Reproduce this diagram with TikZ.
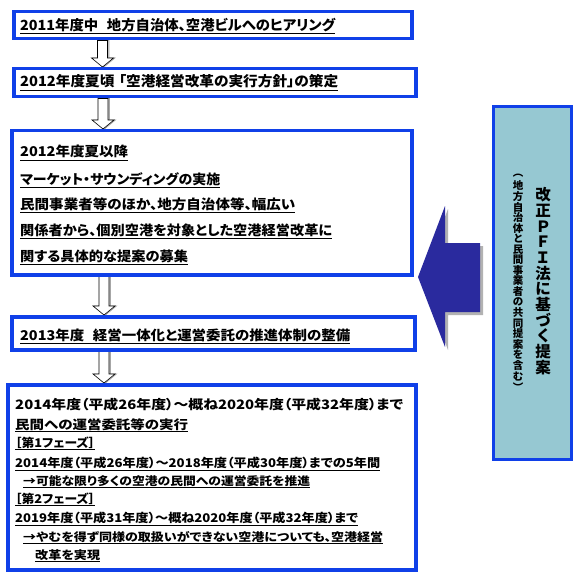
\documentclass[tikz,border=0pt]{standalone}
\usepackage{fontspec}
\usepackage{graphicx}
\setmainfont{Noto Sans CJK JP}[RawFeature=+palt]
\usetikzlibrary{calc}
\definecolor{boxblue}{RGB}{16,64,232}
\definecolor{arrblue}{RGB}{42,42,158}
\definecolor{panelfill}{RGB}{150,200,210}
\newsavebox\fitbox
\newcommand\fitw[2]{\sbox\fitbox{#2}\pgfmathsetmacro\fitf{#1/\the\wd\fitbox}\scalebox{\fitf}[1]{\usebox\fitbox}}
\newcommand\ul[1]{\underline{#1}}
\tikzset{
  box/.style={draw=boxblue, line width=3.5pt, fill=white, anchor=north west, inner sep=0pt},
  txt/.style={anchor=base west, inner sep=0pt, font=\bfseries},
  arrmain/.style={draw=black, line width=0.6pt, fill=white},
  arrshadow/.style={draw=gray!70, line width=0.6pt, fill=gray!40},
}
% block arrow from upper node #1 to lower node #2 at x = #3
\newcommand\barrow[3]{%
  \foreach \o/\st in {1.5/arrshadow,0/arrmain}{%
    \draw[\st, xshift=\o pt, yshift=-\o pt] let \p1=(#1.south), \p2=(#2.north) in
      (#3pt-5pt,\y1) -- (#3pt+5pt,\y1) -- (#3pt+5pt,\y2+9pt) -- (#3pt+11pt,\y2+9pt)
      -- (#3pt,\y2) -- (#3pt-11pt,\y2+9pt) -- (#3pt-5pt,\y2+9pt) -- cycle;
  }}
\begin{document}
\begin{tikzpicture}[x=1pt,y=-1pt]
\useasboundingbox (0,0) rectangle (578,575);
% boxes (placeholders for arrow anchors)
\path (12,10) node[box, minimum width=398pt, minimum height=27pt, draw=none, fill=none] (b1) {};
\path (12,67) node[box, minimum width=402pt, minimum height=28pt, draw=none, fill=none] (b2) {};
\path (10,129) node[box, minimum width=400pt, minimum height=144pt, draw=none, fill=none] (b3) {};
\path (10,315) node[box, minimum width=403pt, minimum height=33pt, draw=none, fill=none] (b4) {};
\path (6,383) node[box, minimum width=408pt, minimum height=185pt, draw=none, fill=none] (b5) {};
% block arrows
\barrow{b1}{b2}{102.5}
\barrow{b2}{b3}{103}
\barrow{b3}{b4}{104}
\barrow{b4}{b5}{104}
% visible boxes
\node[box, minimum width=398pt, minimum height=27pt] at (12,10) {};
\node[box, minimum width=402pt, minimum height=28pt] at (12,67) {};
\node[box, minimum width=400pt, minimum height=144pt] at (10,129) {};
\node[box, minimum width=403pt, minimum height=33pt] at (10,315) {};
\node[box, minimum width=408pt, minimum height=185pt] at (6,383) {};
% texts
\node[txt] (t1) at (20,30.5) {\fontsize{14}{16}\selectfont\fitw{315}{\ul{2011年度中\hspace{0.6em}地方自治体、空港ビルへのヒアリング}}};
\node[txt] (t2) at (20,87) {\fontsize{14}{16}\selectfont\fitw{318}{\ul{2012年度夏頃\hspace{0.3em}「空港経営改革の実行方針」の策定}}};
\node[txt] (t31) at (20,157) {\fontsize{13.5}{16}\selectfont\fitw{108}{\ul{2012年度夏以降}}};
\node[txt] (t32) at (20,184) {\fontsize{13.5}{16}\selectfont\fitw{200}{\ul{マーケット・サウンディングの実施}}};
\node[txt] (t33) at (20,209) {\fontsize{13.5}{16}\selectfont\fitw{275}{\ul{民間事業者等のほか、地方自治体等、幅広い}}};
\node[txt] (t34) at (20,235) {\fontsize{13.5}{16}\selectfont\fitw{312}{\ul{関係者から、個別空港を対象とした空港経営改革に}}};
\node[txt] (t35) at (20,261) {\fontsize{13.5}{16}\selectfont\fitw{168}{\ul{関する具体的な提案の募集}}};
\node[txt] (t4) at (20,340) {\fontsize{13.5}{16}\selectfont\fitw{330}{\ul{2013年度\hspace{0.6em}経営一体化と運営委託の推進体制の整備}}};
\node[txt] (t51) at (15,409) {\fontsize{13}{15}\selectfont\fitw{388}{2014年度（平成26年度）～概ね2020年度（平成32年度）まで}};
\node[txt] (t52) at (15,429) {\fontsize{12.5}{15}\selectfont\fitw{173}{\ul{民間への運営委託等の実行}}};
\node[txt] (t53) at (15,447) {\fontsize{12}{14}\selectfont\fitw{80}{\ul{［第1フェーズ］}}};
\node[txt] (t54) at (15,467) {\fontsize{12}{14}\selectfont\fitw{365}{\ul{2014年度（平成26年度）～2018年度（平成30年度）までの5年間}}};
\node[txt] (t55) at (23,485) {\fontsize{11.5}{14}\selectfont\fitw{287}{\ul{→可能な限り多くの空港の民間への運営委託を推進}}};
\node[txt] (t56) at (15,503) {\fontsize{12}{14}\selectfont\fitw{80}{\ul{［第2フェーズ］}}};
\node[txt] (t57) at (15,522.5) {\fontsize{12}{14}\selectfont\fitw{343}{\ul{2019年度（平成31年度）～概ね2020年度（平成32年度）まで}}};
\node[txt] (t58) at (23,541) {\fontsize{11.5}{14}\selectfont\fitw{360}{\ul{→やむを得ず同様の取扱いができない空港についても、空港経営}}};
\node[txt] (t59) at (35,559) {\fontsize{11.5}{14}\selectfont\fitw{65}{\ul{改革を実現}}};
% big left arrow
\fill[gray!60] (421,280) -- (448,209) -- (448,246) -- (483,246) -- (483,315) -- (448,315) -- (448,350) -- cycle;
\fill[arrblue] (418,277) -- (445,206) -- (445,243) -- (480,243) -- (480,312) -- (445,312) -- (445,347) -- cycle;
% right panel
\fill[gray!60] (495,108) rectangle (573,461);
\node[box, fill=panelfill, line width=3pt, minimum width=78pt, minimum height=353pt] (panel) at (492,105) {};
\foreach \c [count=\i] in {改,正,Ｐ,Ｆ,Ｉ,法,に,基,づ,く,提,案}
  \node[inner sep=0pt, font=\bfseries\fontsize{15.5}{15.5}\selectfont] at (543,{187+7.85+(\i-1)*15.7}) {\c};
\foreach \c [count=\i] in {︵,地,方,自,治,体,と,民,間,事,業,者,の,共,同,提,案,を,含,む,︶}
  \node[inner sep=0pt, font=\bfseries\fontsize{10.5}{10.5}\selectfont] at (518,{170+5.3+(\i-1)*10.57}) {\c};
\end{tikzpicture}
\end{document}
